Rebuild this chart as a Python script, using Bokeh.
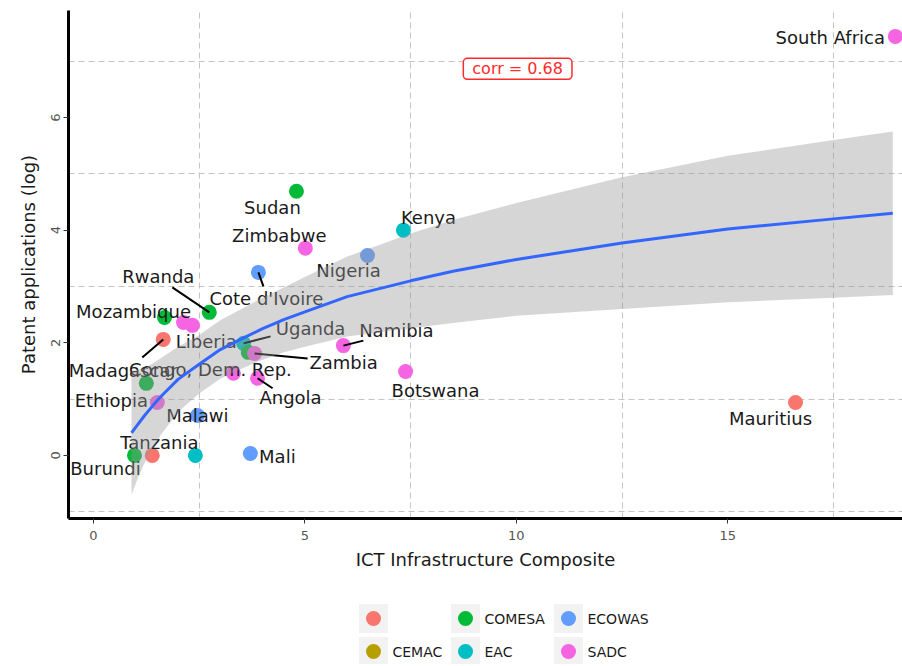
from bokeh.plotting import figure
from bokeh.models import ColumnDataSource, Range1d, FixedTicker, Label
from bokeh.layouts import column
from bokeh.embed import file_html
from bokeh.resources import INLINE
from bokeh.core.properties import value

# ---------------- data ----------------
categories = ["", "CEMAC", "COMESA", "EAC", "ECOWAS", "SADC"]
palette = ["#F8766D", "#B79F00", "#00BA38", "#00BFC4", "#619CFF", "#F564E3"]

country = ["South Africa", "Mauritius", "Sudan", "Kenya", "Nigeria", "Zimbabwe",
           "Cote d'Ivoire", "Rwanda", "", "Mozambique", "", "Madagascar",
           "Uganda", "Liberia", "Zambia", "Congo, Dem. Rep.", "Angola", "Ethiopia",
           "Malawi", "", "Burundi", "", "Tanzania", "Mali", "Namibia", "Botswana"]
ict = [18.96, 16.60, 4.80, 7.33, 6.48, 5.01,
       3.90, 2.74, 1.68, 2.13, 2.34, 1.65,
       3.55, 3.66, 3.81, 3.31, 3.88, 1.25,
       1.51, 2.46, 0.97, 1.39, 2.41, 3.71, 5.91, 7.38]
patents = [7.44, 0.94, 4.69, 4.00, 3.55, 3.68,
           3.25, 2.54, 2.45, 2.36, 2.31, 2.06,
           1.99, 1.83, 1.81, 1.46, 1.37, 1.28,
           0.94, 0.71, 0.00, 0.00, 0.00, 0.035, 1.95, 1.49]
region = ["SADC", "", "COMESA", "EAC", "ECOWAS", "SADC",
          "ECOWAS", "COMESA", "COMESA", "SADC", "SADC", "",
          "EAC", "COMESA", "SADC", "SADC", "SADC", "COMESA",
          "SADC", "ECOWAS", "COMESA", "", "EAC", "ECOWAS", "SADC", "SADC"]

# smoothing curve (log fit) and its confidence band
fit_x = [0.9, 1.05, 1.2, 1.4, 1.6, 2.0, 2.5, 3.0, 3.5, 4.0, 4.5, 5.0, 6.0, 7.5, 8.5,
         10.0, 12.5, 15.0, 17.5, 18.9]
fit_y = [0.40, 0.55, 0.70, 0.88, 1.05, 1.35, 1.62, 1.88, 2.07, 2.25, 2.41, 2.55, 2.82,
         3.10, 3.27, 3.48, 3.77, 4.02, 4.20, 4.30]
fit_hi = [1.50, 1.52, 1.55, 1.63, 1.73, 1.93, 2.14, 2.40, 2.60, 2.80, 2.98, 3.17, 3.53,
          3.94, 4.18, 4.48, 4.94, 5.32, 5.60, 5.75]
fit_lo = [-0.70, -0.40, -0.15, 0.13, 0.37, 0.77, 1.10, 1.36, 1.54, 1.70, 1.83, 1.93,
          2.11, 2.26, 2.35, 2.48, 2.60, 2.72, 2.80, 2.85]

corr_text = "corr = 0.68"
x_ticks = [0, 5, 10, 15]
y_ticks = [0, 2, 4, 6]

# ---------------- layout / style ----------------
FONT = "DejaVu Sans"
W, H = 902, 590
XR = (-0.59, 19.13)
YR = (-1.12, 7.90)
ML, MR, MT, MB = 68, 0, 10, 72
frame_w = W - ML - MR
frame_h = H - MT - MB
px_x = frame_w / (XR[1] - XR[0])
px_y = frame_h / (YR[1] - YR[0])

# label placement (screen px offsets of label centre from its point)
label_offset = {
    "South Africa": (-65, 1), "Mauritius": (-25, 16), "Sudan": (-24, 16),
    "Kenya": (25, -13), "Nigeria": (-19, 15), "Zimbabwe": (-26, -13),
    "Cote d'Ivoire": (8, 26), "Rwanda": (-51, -36), "Mozambique": (-50, -11),
    "Madagascar": (-40, 31), "Uganda": (67, -15), "Liberia": (-42, -11),
    "Zambia": (89, 9), "Congo, Dem. Rep.": (-23, -4), "Angola": (33, 19),
    "Ethiopia": (-35, 17), "Malawi": (40, 13), "Burundi": (-29, 13),
    "Tanzania": (-36, -13), "Mali": (27, 3), "Namibia": (53, -15),
    "Botswana": (30, 19),
}
# leader segments (screen px end offsets from point)
segment_end = {
    "Cote d'Ivoire": (5, 14), "Rwanda": (-37, -25), "Madagascar": (-21, 18),
    "Uganda": (27, -7), "Zambia": (53, 5), "Namibia": (20, -5), "Angola": (15, 10),
}

colors = [palette[categories.index(r)] for r in region]
pts = ColumnDataSource(dict(x=ict, y=patents, c=colors))

lab = dict(x=[], y=[], t=[], dx=[], dy=[])
seg = dict(x0=[], y0=[], x1=[], y1=[])
for n, xv, yv in zip(country, ict, patents):
    if n in label_offset:
        dx, dy = label_offset[n]
        lab["x"].append(xv); lab["y"].append(yv); lab["t"].append(n)
        lab["dx"].append(dx); lab["dy"].append(dy)
    if n in segment_end:
        ex, ey = segment_end[n]
        seg["x0"].append(xv); seg["y0"].append(yv)
        seg["x1"].append(xv + ex / px_x); seg["y1"].append(yv - ey / px_y)

p = figure(width=W, height=H, x_range=Range1d(*XR), y_range=Range1d(*YR),
           output_backend="svg", toolbar_location=None, title=None,
           min_border_left=ML, min_border_right=MR, min_border_top=MT,
           min_border_bottom=MB)
p.outline_line_color = None
p.background_fill_color = "white"
p.border_fill_color = "white"

for g, tk in ((p.xgrid, [2.5, 7.5, 12.5, 17.5]), (p.ygrid, [-1, 1, 3, 5, 7])):
    g.ticker = FixedTicker(ticks=tk)
    g.grid_line_color = "#C4C4C4"
    g.grid_line_dash = "6 4"
    g.grid_line_width = 1

for ax in (p.xaxis, p.yaxis):
    ax.axis_line_color = "black"
    ax.axis_line_width = 3
    ax.major_tick_line_color = "#333333"
    ax.major_tick_out = 5
    ax.major_tick_in = 0
    ax.minor_tick_line_color = None
    ax.major_label_text_font = FONT
    ax.major_label_text_font_size = "13px"
    ax.major_label_text_color = "#555555"
    ax.axis_label_text_font = FONT
    ax.axis_label_text_font_size = "18px"
    ax.axis_label_text_font_style = "normal"
    ax.axis_label_text_color = "#1A1A1A"

p.xaxis.ticker = FixedTicker(ticks=x_ticks)
p.yaxis.ticker = FixedTicker(ticks=y_ticks)
p.xaxis.axis_label = "ICT Infrastructure Composite"
p.yaxis.axis_label = "Patent applications (log)"
p.xaxis.major_label_standoff = 7
p.xaxis.axis_label_standoff = 6
p.yaxis.major_label_orientation = "vertical"
p.yaxis.major_label_standoff = 3
p.yaxis.axis_label_standoff = 10

p.scatter("x", "y", source=pts, size=15, fill_color="c", line_color=None)
p.segment("x0", "y0", "x1", "y1", source=ColumnDataSource(seg),
          line_color="black", line_width=2)
p.text("x", "y", text="t", x_offset="dx", y_offset="dy",
       source=ColumnDataSource(lab), text_font=value(FONT),
       text_font_size="18px", text_color="#1A1A1A",
       text_align="center", text_baseline="middle")

p.varea(x=fit_x, y1=fit_lo, y2=fit_hi, fill_color="#999999", fill_alpha=0.4)
p.line(fit_x, fit_y, line_color="#3366FF", line_width=3)

p.add_layout(Label(x=10.03, y=6.865, text=corr_text, text_align="center",
                   text_baseline="middle", text_color="#FF2A2A",
                   text_font=FONT, text_font_size="16px",
                   border_line_color="#FF2A2A", border_line_width=1.5,
                   background_fill_color="white", padding=(9, 1),
                   border_radius=4))

# ---------------- legend (page-pixel coordinates) ----------------
LH = 74
leg = figure(width=W, height=LH, x_range=Range1d(ML, W - MR), y_range=Range1d(LH, 0),
             output_backend="svg", toolbar_location=None, title=None,
             x_axis_type=None, y_axis_type=None,
             min_border_left=ML, min_border_right=MR, min_border_top=0,
             min_border_bottom=0)
leg.outline_line_color = None
leg.grid.visible = False
col_cx = [373, 465, 568]
row_cy = [28, 61]
kx = [col_cx[i // 2] for i in range(len(categories))]
ky = [row_cy[i % 2] for i in range(len(categories))]
leg.rect(kx, ky, width=29, height=29, width_units="screen", height_units="screen",
         fill_color="#F2F2F2", line_color=None)
leg.scatter(kx, ky, size=15, fill_color=palette, line_color=None)
leg.text([x + 19 for x in kx], ky, text=categories, text_font=value(FONT),
         text_font_size="14px", text_color="#1A1A1A", text_align="left",
         text_baseline="middle")

layout = column(p, leg, spacing=0)
open("out.html", "w").write(file_html(layout, INLINE))
